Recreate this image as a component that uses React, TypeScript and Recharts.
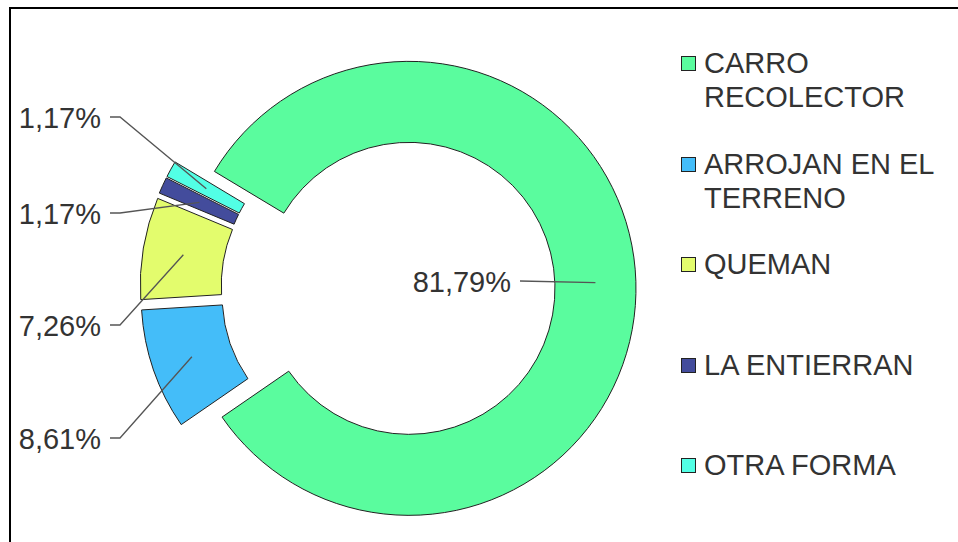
import { Cell, Legend, Pie, PieChart } from "recharts"

const CATEGORIES = ["CARRO RECOLECTOR", "ARROJAN EN EL TERRENO", "QUEMAN", "LA ENTIERRAN", "OTRA FORMA"]
const SHARES = [81.79, 8.61, 7.26, 1.17, 1.17]
const COLORS = ["#5afc9e", "#44bdf9", "#e3fc6d", "#434c9c", "#52ffe5"]

// layout
const CX = 388
const CY = 289
const OUTER = 227
const INNER = 146
const EXPLODE = 21
const START = 149
// where each leader line ends (label anchors)
const LABEL_ENDS = [
  [520, 281],
  [120, 438],
  [120, 325],
  [120, 213],
  [120, 117],
]

const rows = CATEGORIES.map((name, i) => ({ name, value: SHARES[i] }))
const total = SHARES.reduce((a, b) => a + b, 0)

// mid angle of every slice, same convention as recharts (clockwise from START)
const midAngles = SHARES.map((v, i) => {
  const before = SHARES.slice(0, i).reduce((a, b) => a + b, 0)
  return START - ((before + v / 2) / total) * 360
})

const RAD = Math.PI / 180
const fmt = (v: number) => v.toFixed(2).replace(".", ",") + "%"

const makeLabel = (i: number) => (props: any) => {
  if (props.index !== i) return <g />
  const mid = midAngles[i]
  const px = CX + EXPLODE * Math.cos(mid * RAD)
  const py = CY - EXPLODE * Math.sin(mid * RAD)
  const rm = (OUTER + INNER) / 2
  const sx = px + rm * Math.cos(mid * RAD)
  const sy = py - rm * Math.sin(mid * RAD)
  const [ex, ey] = LABEL_ENDS[i]
  const tail = i === 0 ? 0 : 10
  return (
    <g>
      <polyline
        points={`${sx},${sy} ${ex},${ey} ${ex - tail},${ey}`}
        fill="none"
        stroke="#555"
        strokeWidth={1.3}
      />
      <text
        x={ex - tail - 9}
        y={ey + 1}
        textAnchor="end"
        dominantBaseline="central"
        fontSize={29}
        fill="#333"
        fontFamily="'Liberation Sans', Arial, sans-serif"
      >
        {fmt(props.value)}
      </text>
    </g>
  )
}

const LegendBox = () => (
  <div style={{ fontFamily: "'Liberation Sans', Arial, sans-serif", color: "#333" }}>
    {CATEGORIES.map((name, i) => (
      <div key={name} style={{ display: "flex", alignItems: "flex-start", height: 100.5 }}>
        <div
          style={{
            width: 13,
            height: 13,
            marginTop: 10,
            marginRight: 8,
            background: COLORS[i],
            border: "1px solid #222",
            flexShrink: 0,
          }}
        />
        <div style={{ fontSize: 29, lineHeight: "34px", width: 250 }}>{name}</div>
      </div>
    ))}
  </div>
)

export default function App() {
  return (
    <div style={{ position: "absolute", left: 0, top: 0, width: 958, height: 542, overflow: "hidden", background: "#fff" }}>
      <div
        style={{
          position: "absolute",
          left: 9,
          top: 7,
          width: 1100,
          height: 700,
          borderLeft: "2px solid #000",
          borderTop: "2px solid #000",
        }}
      />
      <div style={{ position: "absolute", left: 0, top: 0 }}>
        <PieChart width={958} height={542} margin={{ top: 0, right: 0, bottom: 0, left: 0 }}>
          {SHARES.map((_, i) => (
            <Pie
              key={i}
              data={rows}
              dataKey="value"
              nameKey="name"
              cx={CX + EXPLODE * Math.cos(midAngles[i] * RAD)}
              cy={CY - EXPLODE * Math.sin(midAngles[i] * RAD)}
              innerRadius={INNER}
              outerRadius={OUTER}
              startAngle={START}
              endAngle={START - 360}
              paddingAngle={0}
              label={makeLabel(i)}
              labelLine={false}
              isAnimationActive={false}
            >
              {rows.map((r, j) => (
                <Cell
                  key={r.name}
                  fill={j === i ? COLORS[j] : "transparent"}
                  stroke={j === i ? "#222" : "none"}
                  strokeWidth={1}
                />
              ))}
            </Pie>
          ))}
          <Legend
            layout="vertical"
            align="right"
            verticalAlign="top"
            content={() => <LegendBox />}
            wrapperStyle={{ position: "absolute", left: 681, top: 46, width: 270 }}
          />
        </PieChart>
      </div>
    </div>
  )
}
